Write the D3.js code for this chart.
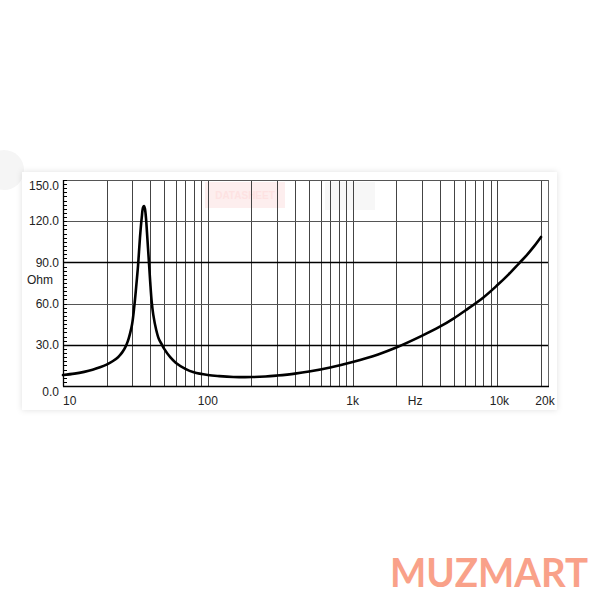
<!DOCTYPE html>
<html><head><meta charset="utf-8">
<script src="https://cdn.jsdelivr.net/npm/d3@7/dist/d3.min.js"></script>
<style>body{margin:0;background:#fff}svg{display:block}</style>
</head><body>
<svg id="c" width="600" height="600"></svg>
<script>
// impedance curve (Hz, Ohm)
const freqs = [10,12,14,16,18,20,22,24,25,26,27,28,29,30,31,32,33,34,35,35.7,36.3,36.8,37.5,38,39,40,41,42,44,46,48,50,55,60,70,80,100,120,150,200,250,300,400,500,700,1000,1500,2000,3000,4000,5000,6000,8000,10000,12000,14000,16000,18000,20000];
const ohms  = [8,9,10.3,11.8,13.6,15.6,18,21,23,25.5,28.5,32.5,38,45,57,72,88,108,123,130,131,129,121,112,94,76,61,52,41,34,30.5,27,21,17,12.5,10,8,7.2,6.6,6.5,6.9,7.6,9,10.5,13.5,17.5,23,28,36.5,43.2,49.3,55,64.5,73.5,81.5,89,95.5,102,108.5];
const yTicks = [0,30,60,90,120,150];
const yTickLabels = ["0.0","30.0","60.0","90.0","120.0","150.0"];
const boldY = [30,90];
const minorY = d3.range(0,151,3);
const gridFreqs = [20,30,40,50,60,70,80,90,100,200,300,400,500,600,700,800,900,1000,2000,3000,4000,5000,6000,7000,8000,9000,10000,20000];
const xLabelFreqs = [10,100,1000,2700,10000,20000];
const xLabels = ["10","100","1k","Hz","10k","20k"];
const yTitle = "Ohm";
const brand = "MUZMART";

const svg = d3.select("#c");
const font = "'Liberation Sans', Arial, Helvetica, sans-serif";

const x = d3.scaleLog().domain([10, 22700]).range([63, 549]);
const y = d3.scaleLinear().domain([0, 150]).range([386, 180]);

svg.append("rect").attr("width",600).attr("height",600).attr("fill","#fff");
svg.append("circle").attr("cx",4).attr("cy",170).attr("r",20).attr("fill","#f5f5f5");

const defs = svg.append("defs");
const f = defs.append("filter").attr("id","sh").attr("x","-5%").attr("y","-10%").attr("width","110%").attr("height","120%");
f.append("feDropShadow").attr("dx",0).attr("dy",0).attr("stdDeviation",3).attr("flood-color","#000").attr("flood-opacity",0.12);

// card
svg.append("rect").attr("x",22).attr("y",172).attr("width",535).attr("height",238)
  .attr("fill","#fff").attr("filter","url(#sh)");

// faint ghost buttons
svg.append("rect").attr("x",205).attr("y",182).attr("width",80).attr("height",26).attr("fill","#fdeeee");
svg.append("text").attr("x",245).attr("y",199).attr("text-anchor","middle")
  .attr("font-family",font).attr("font-size",10).attr("font-weight","bold").attr("fill","#fde2e2").text("DATASHEET");
svg.append("rect").attr("x",325).attr("y",182).attr("width",50).attr("height",28).attr("fill","#f7f7f7");

const g = svg.append("g");

// vertical grid
g.selectAll("line.v").data(gridFreqs).join("line")
  .attr("x1",d=>Math.round(x(d))+0.5).attr("x2",d=>Math.round(x(d))+0.5)
  .attr("y1",y(150)).attr("y2",y(0))
  .attr("stroke","#444").attr("stroke-width",1);

// horizontal grid
g.selectAll("line.h").data(yTicks).join("line")
  .attr("x1",x(10)).attr("x2",x(22700))
  .attr("y1",d=>Math.round(y(d))+0.5).attr("y2",d=>Math.round(y(d))+0.5)
  .attr("stroke",d=>boldY.includes(d)?"#000":"#555")
  .attr("stroke-width",d=>boldY.includes(d)?1.6:1);

// frame
g.append("line").attr("x1",x(22700)-0.5).attr("x2",x(22700)-0.5).attr("y1",y(150)).attr("y2",y(0)).attr("stroke","#666");
g.append("line").attr("x1",x(10)+0.5).attr("x2",x(10)+0.5).attr("y1",y(150)).attr("y2",y(0)+0.5).attr("stroke","#000").attr("stroke-width",1.3);
g.append("line").attr("x1",x(10)).attr("x2",x(22700)).attr("y1",y(0)+0.5).attr("y2",y(0)+0.5).attr("stroke","#000").attr("stroke-width",1.3);

// minor ticks on y axis
g.selectAll("line.m").data(minorY).join("line")
  .attr("x1",x(10)).attr("x2",x(10)+4)
  .attr("y1",d=>Math.round(y(d))+0.5).attr("y2",d=>Math.round(y(d))+0.5)
  .attr("stroke","#000").attr("stroke-width",1);

// y labels
g.selectAll("text.yl").data(yTicks).join("text")
  .attr("x",59).attr("y",d=>y(d))
  .attr("dy",d=>(d===0||d===150)?"0.85em":"0.35em")
  .attr("text-anchor","end").attr("font-family",font).attr("font-size",12).attr("fill","#222")
  .text((d,i)=>yTickLabels[i]);

g.append("text").attr("x",27).attr("y",284).attr("font-family",font).attr("font-size",12).attr("fill","#222").text(yTitle);

// x labels
g.selectAll("text.xl").data(xLabelFreqs).join("text")
  .attr("x",(d,i)=> i===0 ? x(d) : x(d)+ (i>=4?2:0) + (i===5?2:0))
  .attr("y",405)
  .attr("text-anchor",(d,i)=> i===0?"start":"middle")
  .attr("font-family",font).attr("font-size",12).attr("fill","#222")
  .text((d,i)=>xLabels[i]);

// curve
const data = freqs.map((fq,i)=>({f:fq,z:ohms[i]}));
g.append("path").datum(data)
  .attr("d", d3.line().x(d=>x(d.f)).y(d=>y(d.z)).curve(d3.curveCatmullRom.alpha(0.5)))
  .attr("fill","none").attr("stroke","#000").attr("stroke-width",2.6)
  .attr("stroke-linejoin","round").attr("stroke-linecap","round");

// watermark
svg.append("text").attr("x",390).attr("y",587)
  .attr("font-family","Lato, 'Open Sans', sans-serif").attr("font-weight",700)
  .attr("font-size",41).attr("fill","#f9a189")
  .attr("textLength",198).attr("lengthAdjust","spacingAndGlyphs")
  .text(brand);
</script>
</body></html>
